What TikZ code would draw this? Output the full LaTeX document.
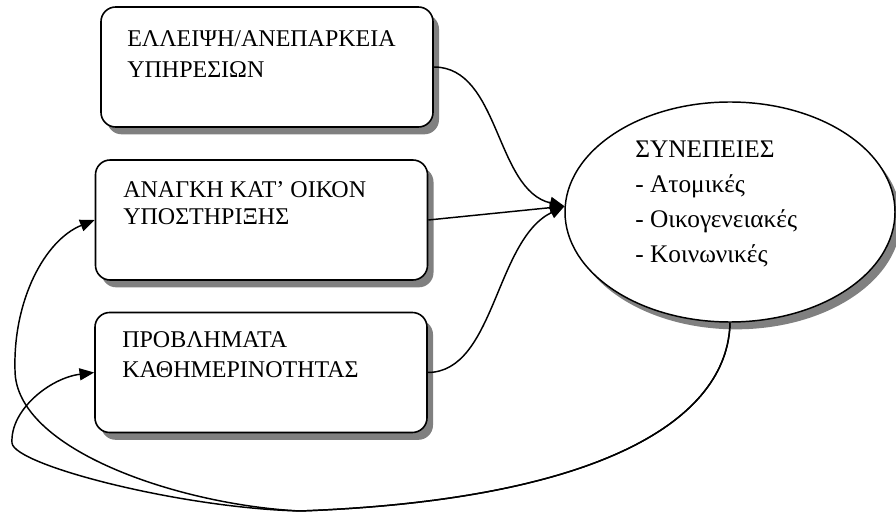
\documentclass[tikz,border=0pt]{standalone}
\usepackage{fontspec}
\setmainfont{Liberation Serif}
\usetikzlibrary{arrows.meta,shadows,shapes.geometric}
\begin{document}
\begin{tikzpicture}[x=0.75pt,y=-0.75pt,
  shad/.style={drop shadow={shadow xshift=4.5pt,shadow yshift=-5.5pt,fill=black!50,opacity=1}},
  box/.style={draw,line width=1.2pt,rounded corners=11pt,fill=white,minimum width=249pt,minimum height=90pt,inner sep=0pt,shad},
  ell/.style={ellipse,draw,line width=1.1pt,fill=white,minimum width=247.5pt,minimum height=165pt,inner sep=0pt,shad},
  lbl/.style={anchor=base west,align=left,inner sep=0pt},
  conn/.style={line width=1.1pt,-{Triangle[length=11pt,width=9pt]}}
]
\useasboundingbox (0,0) rectangle (896,513);
\node[box] (b1) at (267,67) {};
\node[box] (b2) at (261.5,220) {};
\node[box] (b3) at (261,372.5) {};
\node[ell] (syn) at (730,212) {};
\node[lbl,font=\fontsize{18}{23.25}\selectfont] (t1) at (127,78) {ΕΛΛΕΙΨΗ/ΑΝΕΠΑΡΚΕΙΑ\\ΥΠΗΡΕΣΙΩΝ};
\node[lbl,font=\fontsize{18}{20.5}\selectfont] (t2) at (123,225) {ΑΝΑΓΚΗ ΚΑΤ’ ΟΙΚΟΝ\\ΥΠΟΣΤΗΡΙΞΗΣ};
\node[lbl,font=\fontsize{18}{22.5}\selectfont] (t3) at (122,378) {ΠΡΟΒΛΗΜΑΤΑ\\ΚΑΘΗΜΕΡΙΝΟΤΗΤΑΣ};
\node[lbl,font=\fontsize{19}{26.25}\selectfont] (t4) at (635,263) {ΣΥΝΕΠΕΙΕΣ\\- Ατομικές\\- Οικογενειακές\\- Κοινωνικές};
\draw[conn] (b1.east) .. controls (500,67) and (495,190) .. (syn.178);
\draw[conn] (b2.east) -- (syn.178);
\draw[conn] (b3.east) .. controls (495,372) and (495,240) .. (syn.178);
\draw[conn] (syn.south) .. controls (728,420) and (600,500) .. (300,511) .. controls (180,505) and (15,450) .. (15,370) .. controls (13,300) and (45,240) .. (b2.west);
\draw[conn] (syn.south) .. controls (728,420) and (600,500) .. (300,511) .. controls (180,508) and (14,465) .. (12,443) .. controls (10,410) and (50,378) .. (b3.west);
\end{tikzpicture}
\end{document}
